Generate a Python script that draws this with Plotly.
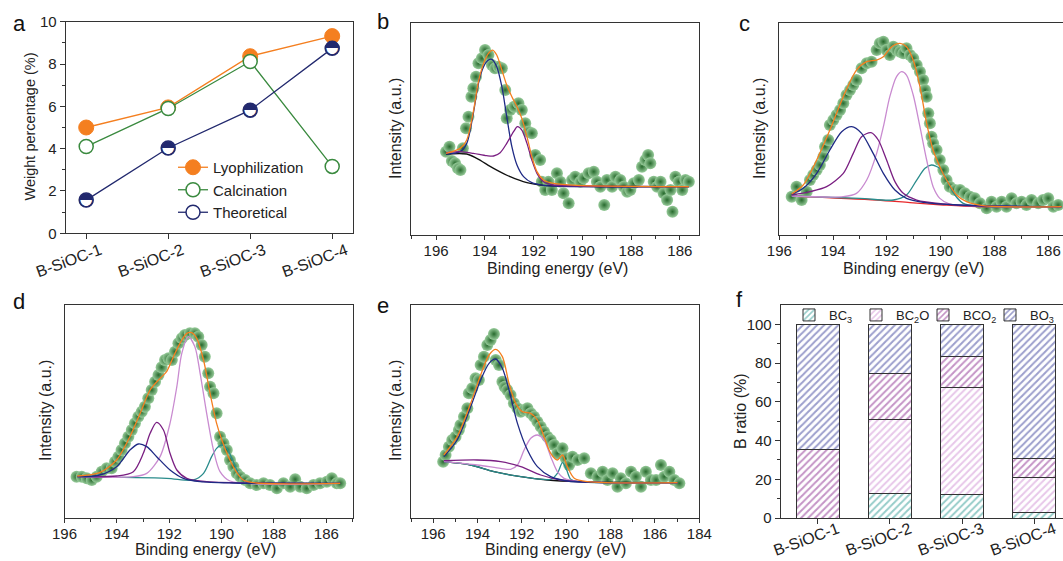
import plotly.graph_objects as go

FONT = "Liberation Sans, Arial, Helvetica, sans-serif"
AX = "#333333"
TXT = "#222222"
W, H = 1063, 561

ORANGE = "#F47F20"
GREEN = "#3A8A3F"
NAVY = "#22296E"
FIT_NAVY = "#1F2A85"
PURPLE = "#7A1F82"
PINK = "#C98BD0"
TEAL = "#2A8C8C"
RED = "#E8282B"

# ---------------- panel a ----------------
samples = ["B-SiOC-1", "B-SiOC-2", "B-SiOC-3", "B-SiOC-4"]
sample_pos = [1, 2, 3, 4]
lyophilization = [5.0, 5.95, 8.37, 9.32]
calcination = [4.1, 5.9, 8.12, 3.16]
theoretical = [1.57, 4.03, 5.82, 8.74]

# ---------------- panel b ----------------
b_energy = [195.59, 195.45, 195.35, 195.22, 195.10, 195.00, 194.90, 194.77, 194.67, 194.55,
            194.47, 194.36, 194.26, 194.12, 193.99, 193.85, 193.71, 193.58, 193.44, 193.30,
            193.16, 193.10, 192.96, 192.80, 192.62, 192.48, 192.34, 192.21, 192.07, 191.93,
            191.73, 191.66, 191.52, 191.39, 191.25, 191.04, 190.90, 190.77, 190.56, 190.42,
            190.29, 190.08, 189.95, 189.74, 189.53, 189.40, 189.26, 189.10, 188.99, 188.78,
            188.64, 188.44, 188.30, 188.16, 188.03, 187.89, 187.68, 187.55, 187.41, 187.30,
            187.21, 187.07, 186.93, 186.79, 186.66, 186.52, 186.38, 186.30, 186.18, 186.04,
            185.90, 185.77, 185.63]
b_intensity = [250, 265, 222, 215, 200, 195, 260, 320, 355, 415,
               440, 475, 515, 530, 555, 540, 510, 500, 505, 500,
               435, 350, 375, 385, 395, 375, 335, 310, 305, 240,
               225, 160, 135, 160, 135, 185, 160, 125, 95, 165,
               175, 160, 170, 185, 190, 160, 145, 90, 165, 145,
               175, 165, 145, 130, 135, 155, 165, 205, 225, 240,
               215, 160, 145, 160, 125, 105, 135, 70, 175, 160,
               135, 165, 160]
b_bg_x = [195.59, 194.74, 194.33, 193.64, 192.96, 192.27, 191.59, 190.90, 185.63]
b_bg_y = [243, 243, 230, 200, 175, 157, 149, 147, 145]
b_bo3_x = [195.59, 195.01, 194.74, 194.47, 194.26, 194.05, 193.85, 193.71, 193.51, 193.30,
           193.10, 192.89, 192.68, 192.41, 192.07, 191.59, 190.90, 185.63]
b_bo3_y = [243, 250, 275, 365, 455, 505, 525, 527, 505, 445,
           355, 265, 210, 175, 157, 149, 146, 145]
b_bco2_x = [195.59, 195.01, 194.47, 193.92, 193.64, 193.37, 193.10, 192.82, 192.66, 192.48,
            192.27, 192.07, 191.86, 191.59, 191.18, 190.22, 185.63]
b_bco2_y = [247, 250, 245, 238, 237, 247, 275, 310, 325, 315,
            275, 225, 185, 160, 150, 147, 145]
b_env_x = [195.59, 195.01, 194.74, 194.47, 194.26, 194.05, 193.85, 193.68, 193.51, 193.30,
           193.10, 192.89, 192.68, 192.48, 192.27, 192.07, 191.86, 191.59, 191.18, 190.22, 185.63]
b_env_y = [245, 260, 285, 370, 460, 515, 545, 555, 540, 495,
           450, 415, 385, 350, 295, 235, 190, 165, 155, 149, 145]

# ---------------- panel c ----------------
c_energy = [195.54, 195.36, 195.17, 194.98, 194.86, 194.74, 194.61, 194.49, 194.36, 194.30,
            194.18, 194.12, 193.99, 193.87, 193.74, 193.62, 193.50, 193.37, 193.25, 193.13,
            192.94, 192.75, 192.57, 192.38, 192.26, 192.13, 192.01, 191.89, 191.76, 191.64,
            191.51, 191.39, 191.27, 191.14, 191.02, 190.89, 190.77, 190.65, 190.58, 190.52,
            190.46, 190.40, 190.34, 190.28, 190.15, 190.03, 189.90, 189.78, 189.66, 189.47,
            189.28, 189.10, 188.91, 188.73, 188.54, 188.29, 188.11, 187.92, 187.73, 187.55,
            187.36, 187.18, 186.99, 186.81, 186.62, 186.37, 186.19, 186.00, 185.81, 185.63]
c_intensity = [115, 145, 105, 130, 165, 180, 195, 210, 235, 265,
               285, 330, 345, 360, 375, 395, 420, 435, 450, 465,
               500, 515, 520, 555, 575, 580, 555, 540, 565, 555,
               550, 545, 560, 540, 530, 510, 490, 465, 435, 415,
               365, 335, 295, 275, 255, 225, 195, 165, 145, 135,
               135, 125, 115, 110, 95, 80, 100, 85, 100, 85,
               110, 95, 100, 90, 105, 95, 105, 110, 85, 90]
c_bg_x = [195.54, 192.38, 191.14, 189.90, 188.66, 185.50]
c_bg_y = [117, 105, 97, 90, 85, 85]
c_bc3_x = [195.54, 193.00, 191.76, 191.27, 190.89, 190.58, 190.34, 190.03, 189.78, 189.47,
           189.16, 188.66, 185.50]
c_bc3_y = [117, 110, 105, 120, 165, 200, 210, 200, 165, 120, 95, 87, 85]
c_bc2o_x = [195.54, 193.62, 193.13, 192.75, 192.38, 192.13, 191.89, 191.64, 191.45, 191.27,
            191.02, 190.77, 190.52, 190.28, 190.03, 189.66, 188.66, 185.50]
c_bc2o_y = [117, 115, 125, 165, 245, 325, 415, 475, 490, 480,
            420, 325, 225, 145, 110, 93, 87, 85]
c_bco2_x = [195.54, 194.86, 194.24, 193.62, 193.25, 192.94, 192.59, 192.32, 192.01, 191.70,
            191.39, 190.89, 189.90, 188.66, 185.50]
c_bco2_y = [120, 130, 145, 185, 245, 295, 307, 285, 225, 160, 125, 105, 93, 87, 85]
c_bo3_x = [195.54, 195.11, 194.61, 194.12, 193.68, 193.31, 192.94, 192.51, 192.13, 191.70,
           191.27, 190.65, 189.28, 185.50]
c_bo3_y = [122, 140, 185, 255, 310, 325, 305, 245, 185, 135, 110, 98, 90, 85]
c_env_x = [195.54, 195.11, 194.61, 194.12, 193.62, 193.13, 192.75, 192.38, 192.13, 191.82,
           191.51, 191.27, 191.02, 190.77, 190.52, 190.28, 190.03, 189.78, 189.41, 189.04,
           188.42, 185.50]
c_env_y = [123, 150, 225, 315, 415, 495, 520, 525, 535, 565,
           575, 565, 525, 445, 335, 255, 205, 165, 120, 100, 88, 85]

# ---------------- panel d ----------------
d_energy = [195.54, 195.34, 195.15, 194.96, 194.77, 194.58, 194.39, 194.20, 194.07, 193.94,
            193.82, 193.69, 193.56, 193.43, 193.31, 193.18, 193.05, 192.93, 192.80, 192.67,
            192.54, 192.41, 192.29, 192.16, 192.03, 191.90, 191.78, 191.65, 191.52, 191.40,
            191.21, 191.02, 190.89, 190.76, 190.64, 190.51, 190.44, 190.31, 190.19, 190.06,
            189.93, 189.80, 189.68, 189.55, 189.42, 189.29, 189.10, 188.91, 188.66, 188.40,
            188.15, 187.89, 187.64, 187.38, 187.19, 187.00, 186.75, 186.49, 186.24, 185.98,
            185.79, 185.60, 185.47]
d_intensity = [124, 124, 119, 114, 124, 139, 149, 149, 169, 184,
               204, 224, 244, 264, 284, 304, 319, 334, 359, 384,
               409, 429, 452, 474, 479, 474, 499, 524, 539, 549,
               554, 554, 544, 519, 484, 434, 394, 374, 314, 244,
               224, 204, 174, 154, 134, 124, 114, 104, 99, 104,
               99, 89, 104, 94, 116, 94, 89, 99, 104, 109,
               119, 104, 104]
d_bo3_x = [195.51, 194.66, 194.01, 193.50, 193.18, 192.86, 192.48, 191.97, 191.46, 190.82, 189.55, 185.47]
d_bo3_y = [124, 129, 154, 204, 222, 214, 184, 144, 119, 109, 105, 104]
d_bco2_x = [195.51, 194.01, 193.37, 192.99, 192.73, 192.48, 192.22, 191.97, 191.71, 191.33, 190.57, 185.47]
d_bco2_y = [124, 126, 139, 194, 254, 287, 264, 194, 144, 119, 109, 104]
d_bc2o_x = [195.51, 193.37, 192.86, 192.35, 191.97, 191.71, 191.52, 191.27, 191.02, 190.82,
            190.57, 190.31, 190.06, 189.68, 185.47]
d_bc2o_y = [124, 124, 134, 184, 284, 394, 494, 544, 514, 434, 314, 204, 139, 111, 104]
d_bc3_x = [195.51, 192.10, 191.08, 190.69, 190.38, 190.19, 189.99, 189.80, 189.55, 189.29, 188.97, 185.47]
d_bc3_y = [124, 119, 114, 134, 184, 209, 219, 209, 169, 124, 106, 104]
d_env_x = [195.51, 194.66, 194.01, 193.50, 193.11, 192.73, 192.35, 192.10, 191.84, 191.59,
           191.33, 191.14, 190.95, 190.69, 190.44, 190.19, 189.99, 189.74, 189.48, 189.17,
           188.66, 185.47]
d_env_y = [126, 136, 174, 244, 314, 384, 419, 439, 484, 524,
           554, 556, 539, 474, 374, 284, 234, 184, 144, 114, 105, 104]

# ---------------- panel e ----------------
e_energy = [195.55, 195.44, 195.29, 195.14, 194.99, 194.84, 194.77, 194.61, 194.46, 194.39,
            194.24, 194.09, 193.94, 193.86, 193.71, 193.56, 193.41, 193.26, 193.18, 193.03,
            192.88, 192.78, 192.66, 192.51, 192.36, 192.20, 192.05, 191.90, 191.75, 191.60,
            191.45, 191.30, 191.15, 191.00, 190.85, 190.70, 190.55, 190.40, 190.17, 190.02,
            189.87, 189.72, 189.49, 189.19, 188.89, 188.59, 188.36, 188.14, 187.91, 187.69,
            187.54, 187.31, 187.08, 186.86, 186.63, 186.41, 186.18, 185.95, 185.73, 185.58,
            185.35, 185.13, 184.90]
e_intensity = [169, 189, 214, 234, 244, 264, 279, 304, 329, 374,
               389, 419, 414, 459, 484, 519, 534, 552, 474, 459,
               409, 394, 384, 369, 344, 329, 319, 324, 329, 314,
               304, 289, 274, 259, 244, 234, 219, 194, 209, 179,
               159, 184, 174, 179, 134, 124, 139, 114, 134, 94,
               119, 104, 139, 124, 94, 139, 114, 114, 159, 124,
               139, 114, 104]
e_bg_x = [195.52, 194.31, 193.26, 192.05, 190.85, 189.49, 184.98]
e_bg_y = [169, 159, 139, 124, 114, 109, 106]
e_bo3_x = [195.52, 194.92, 194.31, 193.86, 193.48, 193.18, 192.88, 192.58, 192.20, 191.75,
           191.30, 190.70, 189.95, 188.74, 184.98]
e_bo3_y = [184, 234, 334, 414, 464, 477, 449, 384, 284, 204, 154, 124, 111, 107, 106]
e_bco2_x = [195.52, 194.01, 192.96, 192.05, 191.15, 190.25, 188.74, 184.98]
e_bco2_y = [172, 174, 169, 154, 129, 114, 107, 106]
e_bc3_x = [195.52, 194.31, 193.26, 192.05, 190.70, 190.40, 190.17, 189.98, 189.80, 189.49, 184.98]
e_bc3_y = [169, 159, 139, 124, 116, 134, 166, 144, 116, 109, 106]
e_bc2o_x = [195.52, 194.01, 192.96, 192.51, 192.20, 191.90, 191.60, 191.30, 191.00, 190.70,
            190.40, 190.10, 189.49, 184.98]
e_bc2o_y = [169, 159, 149, 146, 159, 204, 239, 249, 234, 184, 139, 119, 110, 106]
e_env_x = [195.52, 194.92, 194.31, 193.86, 193.48, 193.18, 192.88, 192.58, 192.28, 191.98,
           191.60, 191.30, 191.00, 190.70, 190.40, 190.17, 189.95, 189.64, 189.04, 184.98]
e_env_y = [189, 244, 344, 429, 489, 506, 484, 404, 344, 319,
           314, 294, 244, 194, 174, 189, 154, 119, 109, 106]

# ---------------- panel f ----------------
ratio_BC3 = [0, 12.5, 12.0, 2.6]
ratio_BC2O = [0, 38.6, 55.6, 18.1]
ratio_BCO2 = [35.6, 23.5, 15.9, 10.1]
ratio_BO3 = [64.4, 25.4, 16.5, 69.2]


def px_x(v):
    return v / W


def px_y(v):
    return 1 - v / H


fig = go.Figure()

# ---- a ----
fig.add_trace(go.Scatter(x=sample_pos, y=lyophilization, name="Lyophilization", mode="lines+markers",
                         line=dict(color=ORANGE, width=1.3),
                         marker=dict(size=15, color=ORANGE, line=dict(color=ORANGE, width=1)),
                         xaxis="x", yaxis="y", legend="legend"))
fig.add_trace(go.Scatter(x=sample_pos, y=calcination, name="Calcination", mode="lines+markers",
                         line=dict(color=GREEN, width=1.3),
                         marker=dict(size=14, color="white", line=dict(color=GREEN, width=1.5)),
                         xaxis="x", yaxis="y", legend="legend"))
fig.add_trace(go.Scatter(x=sample_pos, y=theoretical, name="Theoretical", mode="lines+markers",
                         line=dict(color=NAVY, width=1.3),
                         marker=dict(size=14, color="white", line=dict(color=NAVY, width=1.5)),
                         xaxis="x", yaxis="y", legend="legend"))
fig.add_trace(go.Scatter(x=sample_pos, y=theoretical, mode="text", text=["\u25d3"] * len(theoretical),
                         textposition="middle center",
                         textfont=dict(family="DejaVu Sans", size=18, color=NAVY),
                         showlegend=False, hoverinfo="skip", xaxis="x", yaxis="y"))

SPHERE = dict(size=12, color="#98cc9b", gradient=dict(type="radial", color="#276a2d"), line=dict(width=0))


def add_points(xv, yv, xa, ya):
    fig.add_trace(go.Scatter(x=xv, y=yv, mode="markers", marker=SPHERE, showlegend=False,
                             xaxis=xa, yaxis=ya))


def add_curve(xv, yv, color, xa, ya, width=1.3):
    fig.add_trace(go.Scatter(x=xv, y=yv, mode="lines", line=dict(color=color, width=width, shape="spline",
                                                                 smoothing=0.8),
                             showlegend=False, xaxis=xa, yaxis=ya))


# ---- b ----
add_points(b_energy, b_intensity, "x2", "y2")
add_curve(b_bg_x, b_bg_y, "#111111", "x2", "y2")
add_curve(b_bo3_x, b_bo3_y, FIT_NAVY, "x2", "y2")
add_curve(b_bco2_x, b_bco2_y, PURPLE, "x2", "y2")
add_curve(b_env_x, b_env_y, ORANGE, "x2", "y2")

# ---- c ----
add_points(c_energy, c_intensity, "x3", "y3")
add_curve(c_bg_x, c_bg_y, RED, "x3", "y3")
add_curve(c_bc3_x, c_bc3_y, TEAL, "x3", "y3")
add_curve(c_bc2o_x, c_bc2o_y, PINK, "x3", "y3")
add_curve(c_bco2_x, c_bco2_y, PURPLE, "x3", "y3")
add_curve(c_bo3_x, c_bo3_y, FIT_NAVY, "x3", "y3")
add_curve(c_env_x, c_env_y, ORANGE, "x3", "y3")

# ---- d ----
add_points(d_energy, d_intensity, "x4", "y4")
add_curve(d_bc3_x, d_bc3_y, TEAL, "x4", "y4")
add_curve(d_bc2o_x, d_bc2o_y, PINK, "x4", "y4")
add_curve(d_bco2_x, d_bco2_y, PURPLE, "x4", "y4")
add_curve(d_bo3_x, d_bo3_y, FIT_NAVY, "x4", "y4")
add_curve(d_env_x, d_env_y, ORANGE, "x4", "y4")

# ---- e ----
add_points(e_energy, e_intensity, "x5", "y5")
add_curve(e_bg_x, e_bg_y, "#111111", "x5", "y5")
add_curve(e_bc3_x, e_bc3_y, TEAL, "x5", "y5")
add_curve(e_bc2o_x, e_bc2o_y, PINK, "x5", "y5")
add_curve(e_bco2_x, e_bco2_y, PURPLE, "x5", "y5")
add_curve(e_bo3_x, e_bo3_y, FIT_NAVY, "x5", "y5")
add_curve(e_env_x, e_env_y, ORANGE, "x5", "y5")

# ---- f ----
f_series = [("BC<sub>3</sub>", ratio_BC3, "#2E9A93"),
            ("BC<sub>2</sub>O", ratio_BC2O, "#D08FD4"),
            ("BCO<sub>2</sub>", ratio_BCO2, "#8A2A8E"),
            ("BO<sub>3</sub>", ratio_BO3, "#3A3F9A")]
for name, vals, col in f_series:
    fig.add_trace(go.Bar(x=sample_pos, y=vals, name=name, width=0.6,
                         marker=dict(color="white", line=dict(color="#333333", width=1),
                                     pattern=dict(shape="/", fgcolor=col, bgcolor="white", size=5, solidity=0.4)),
                         xaxis="x6", yaxis="y6", legend="legend2"))

TICKFONT = dict(family=FONT, size=15, color=TXT)
CATFONT = dict(family=FONT, size=16, color=TXT)


def base_axis(**kw):
    d = dict(showline=True, linecolor=AX, linewidth=1, showgrid=False, zeroline=False, automargin=False,
             ticks="outside", ticklen=5, tickwidth=1, tickcolor=AX, tickfont=TICKFONT)
    d.update(kw)
    return d


def xps_x(domain, rng, anchor, mirror=True):
    return base_axis(domain=domain, range=rng, anchor=anchor, mirror=mirror, dtick=2, tick0=196,
                     ticklen=4, ticklabelstandoff=-2,
                     minor=dict(dtick=1, tick0=195, ticks="outside", ticklen=3, tickcolor=AX))


def xps_y(domain, rng, anchor, mirror=True):
    return dict(domain=domain, range=rng, anchor=anchor, showline=True, linecolor=AX, linewidth=1,
                mirror=mirror, showgrid=False, zeroline=False, showticklabels=False, ticks="",
                automargin=False)


top_y = [px_y(235), px_y(22.7)]
bot_y = [px_y(518), px_y(305)]

layout = dict(
    width=W, height=H, autosize=False, margin=dict(l=0, r=0, t=0, b=0, autoexpand=False),
    paper_bgcolor="white", plot_bgcolor="white",
    font=dict(family=FONT, size=15, color=TXT),
    barmode="stack", showlegend=True,
    xaxis=base_axis(domain=[px_x(65.7), px_x(352.7)], range=[0.75, 4.25], anchor="y", mirror=True,
                    tickvals=sample_pos, ticktext=samples, tickangle=-20, tickfont=CATFONT,
                    ticklabelshift=14, ticklabelstandoff=-4),
    yaxis=base_axis(domain=[px_y(233.3), px_y(21.7)], range=[0, 10], anchor="x", mirror=True,
                    dtick=2, minor=dict(dtick=1, ticks="outside", ticklen=3, tickcolor=AX)),
    xaxis2=xps_x([px_x(410.7), px_x(699.3)], [197.04, 185.2], "y2"),
    yaxis2=xps_y(top_y, [0, 637], "x2"),
    xaxis3=xps_x([px_x(779.3), 1.0], [196, 185.45], "y3"),
    yaxis3=xps_y(top_y, [0, 637], "x3", mirror=False),
    xaxis4=xps_x([px_x(64.5), px_x(352.5)], [196, 185], "y4"),
    yaxis4=xps_y(bot_y, [0, 639], "x4"),
    xaxis5=xps_x([px_x(411), px_x(699.3)], [197, 184], "y5"),
    yaxis5=xps_y(bot_y, [0, 639], "x5"),
    xaxis6=base_axis(domain=[px_x(780.7), 1.0], range=[0.488, 4.397], anchor="y6", mirror=True,
                     tickvals=sample_pos, ticktext=samples, tickangle=-20, tickfont=CATFONT,
                     ticklabelshift=20, ticklabelstandoff=-10),
    yaxis6=base_axis(domain=bot_y, range=[0, 110], anchor="x6", mirror=False,
                     tickvals=[0, 20, 40, 60, 80, 100],
                     minor=dict(tickvals=[10, 30, 50, 70, 90], ticks="outside", ticklen=3, tickcolor=AX)),
    legend=dict(x=px_x(173), y=px_y(151), xanchor="left", yanchor="top", bgcolor="rgba(0,0,0,0)",
                font=dict(family=FONT, size=15, color=TXT), itemwidth=30, tracegroupgap=0),
    legend2=dict(orientation="h", x=px_x(789), y=px_y(315), xanchor="left", yanchor="middle",
                 bgcolor="rgba(0,0,0,0)", font=dict(family=FONT, size=13, color=TXT),
                 entrywidth=22, entrywidthmode="pixels", itemwidth=30, traceorder="normal"),
)
fig.update_layout(**layout)

annotations = []
for letter, xpx, ypx in [("a", 19, 23), ("b", 383, 21), ("c", 744, 24), ("d", 19, 301), ("e", 383, 305), ("f", 739, 299)]:
    annotations.append(dict(text=letter, x=px_x(xpx), y=px_y(ypx), xref="paper", yref="paper",
                            xanchor="center", yanchor="middle", showarrow=False,
                            font=dict(family=FONT, size=22, color="#111111")))
for txt, xpx, ypx, size in [("Weight percentage (%)", 29.5, 127, 14.5),
                            ("Intensity (a.u.)", 395, 129, 16),
                            ("Intensity (a.u.)", 759, 129, 16),
                            ("Intensity (a.u.)", 45, 411, 16),
                            ("Intensity (a.u.)", 395, 411, 16),
                            ("B ratio (%)", 740, 411, 16)]:
    annotations.append(dict(text=txt, x=px_x(xpx), y=px_y(ypx), xref="paper", yref="paper",
                            xanchor="center", yanchor="middle", textangle=-90, showarrow=False,
                            font=dict(family=FONT, size=size, color=TXT)))
for xpx, ypx in [(557, 268), (913, 268), (205, 549), (555, 549)]:
    annotations.append(dict(text="Binding energy (eV)", x=px_x(xpx), y=px_y(ypx), xref="paper", yref="paper",
                            xanchor="center", yanchor="middle", showarrow=False,
                            font=dict(family=FONT, size=16, color=TXT)))
fig.update_layout(annotations=annotations)

fig.write_html("out.html", config={"displayModeBar": False},
               post_script="document.body.style.margin='0';document.body.style.overflow='hidden';")
